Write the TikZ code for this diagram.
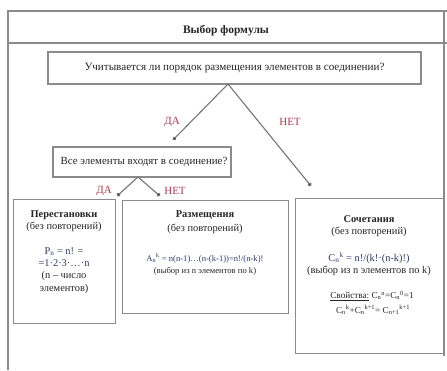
\documentclass[tikz,border=0pt]{standalone}
\usepackage{fontspec}
\setmainfont{Liberation Serif}
\usetikzlibrary{arrows.meta}
\definecolor{lbl}{HTML}{A8404F}
\definecolor{frm}{HTML}{8A8A8A}
\definecolor{txt}{HTML}{262626}
\definecolor{fml}{HTML}{2E3A66}
\newcommand{\mysb}[1]{\textsubscript{#1}}
\newcommand{\mysp}[1]{\textsuperscript{#1}}
\begin{document}
\begin{tikzpicture}[x=1pt,y=-1pt,
  box/.style={draw=frm,line width=1.2pt,fill=white,inner sep=0pt},
  conn/.style={draw=frm!85!black,line width=1.1pt,-{Circle[length=4pt,fill=black]}},
  lab/.style={text=lbl,font=\fontsize{11}{12}\selectfont,inner sep=0pt},
  qtext/.style={text=txt,font=\fontsize{11.1}{12}\selectfont,inner sep=0pt},
  btext/.style={text=txt,align=center,inner sep=0pt,font=\fontsize{10.4}{12.3}\selectfont},
  ptext/.style={text=txt,inner sep=0pt,font=\fontsize{9.2}{11}\selectfont},
  rule/.style={draw=frm,line width=1.2pt}]
\fill[white] (0,0) rectangle (447,370);
\useasboundingbox (0,0) rectangle (447,370);
% frame
\draw[rule] (7,11) -- (447,11);
\draw[rule] (7,43) -- (447,43);
\draw[rule] (8,11) -- (8,370);
\draw[rule] (444,11) -- (444,356);
\node[text=txt,font=\bfseries\fontsize{11.5}{13}\selectfont,inner sep=0pt] (title) at (226,31) {Выбор формулы};
% question boxes
\node[box,minimum width=373pt,minimum height=32pt] (q1) at (234.5,68) {};
\node[qtext] (q1t) at (q1.center) {Учитывается ли порядок размещения элементов в соединении?};
\node[box,minimum width=178pt,minimum height=30pt] (q2) at (142,162) {};
\node[qtext,font=\fontsize{10.9}{12}\selectfont] (q2t) at (144,162) {Все элементы входят в соединение?};
% result boxes
\node[box,anchor=north west,minimum width=102pt,minimum height=124pt] (b1) at (13,199) {};
\node[btext] (b1t) at (64,252) {\textbf{Перестановки}\\(без повторений)\\[12.3pt]
  \textcolor{fml}{P\mysb{n} = n! =}\\\textcolor{fml}{=1·2·3·…·n}\\(n – число\\элементов)};
\node[box,anchor=north west,minimum width=166pt,minimum height=113pt] (b2) at (122,200) {};
\node[btext,font=\fontsize{10.4}{14}\selectfont] (b2h) at (205,222) {\textbf{Размещения}\\(без повторений)};
\node[btext,font=\fontsize{8.6}{12}\selectfont] (b2f) at (205,264) {\textcolor{fml}{A\mysb{n}\mysp{k} = n(n-1)…(n-(k-1))=n!/(n-k)!}\\(выбор из n элементов по k)};
\node[box,anchor=north west,minimum width=148pt,minimum height=155pt] (b3) at (295,198) {};
\node[btext] (b3h) at (369,226) {\textbf{Сочетания}\\(без повторений)};
\node[btext] (b3f) at (369,264) {\textcolor{fml}{C\mysb{n}\mysp{k} = n!/(k!·(n-k)!)}\\(выбор из n элементов по k)};
\node[ptext] (b3p1) at (372,296) {\underline{Свойства:} C\mysb{n}\mysp{n}=C\mysb{n}\mysp{0}=1};
\node[ptext] (b3p2) at (373,310) {C\mysb{n}\mysp{k}+C\mysb{n}\mysp{k+1}= C\mysb{n+1}\mysp{k+1}};
% connectors
\coordinate (a1) at (228,84);
\coordinate (e1) at (173,140);
\coordinate (e2) at (311,186);
\draw[conn] (a1) -- (e1);
\draw[conn] (a1) -- (e2);
\node[lab] (l1) at (172,122) {ДА};
\node[lab] (l2) at (290,122) {НЕТ};
\coordinate (a2) at (138,177);
\coordinate (e3) at (117,196);
\coordinate (e4) at (160,196);
\draw[conn] (a2) -- (e3);
\draw[conn] (a2) -- (e4);
\node[lab] (l3) at (104,191) {ДА};
\node[lab] (l4) at (175,191) {НЕТ};
\end{tikzpicture}
\end{document}
